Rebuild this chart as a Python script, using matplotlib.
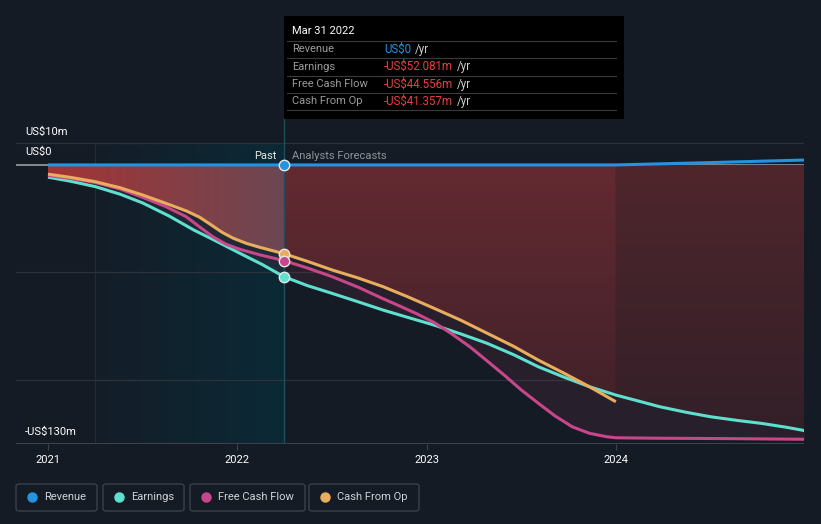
import numpy as np
import matplotlib
matplotlib.use('Agg')
import matplotlib.pyplot as plt
from matplotlib.patches import Rectangle, FancyBboxPatch
from matplotlib.colors import LinearSegmentedColormap

plt.rcParams['font.family'] = ['Roboto', 'DejaVu Sans']

# values in US$m, x in decimal years
rev_x = [2021.0, 2022.247, 2023.0, 2024.0, 2024.5, 2025.0]
rev_y = [0.0, 0.0, 0.0, 0.0, 1.1, 2.3]

earn_x = [2021.0, 2021.12, 2021.25, 2021.38, 2021.5, 2021.64, 2021.77, 2021.9, 2022.01, 2022.13,
          2022.247, 2022.37, 2022.5, 2022.64, 2022.77, 2022.9, 2023.04, 2023.18, 2023.32, 2023.46,
          2023.59, 2023.73, 2023.86, 2024.0, 2024.12, 2024.23, 2024.37, 2024.5, 2024.64, 2024.77,
          2024.9, 2025.0]
earn_y = [-5.7, -7.6, -10.1, -13.6, -17.7, -23.8, -30.3, -36.0, -41.0, -46.3,
          -52.081, -56.2, -59.8, -63.8, -67.6, -71.0, -74.6, -78.7, -83.1, -88.4,
          -94.0, -99.0, -103.3, -107.2, -110.0, -112.6, -115.2, -117.3, -119.0, -120.4,
          -122.2, -123.8]

fcf_x = [2021.0, 2021.12, 2021.25, 2021.38, 2021.5, 2021.62, 2021.73, 2021.8, 2021.87, 2021.94,
         2022.01, 2022.12, 2022.247, 2022.37, 2022.5, 2022.64, 2022.77, 2022.86, 2022.95, 2023.04,
         2023.13, 2023.23, 2023.32, 2023.41, 2023.5, 2023.59, 2023.68, 2023.77, 2023.86, 2023.95,
         2024.0, 2024.2, 2024.6, 2025.0]
fcf_y = [-4.9, -6.3, -8.2, -11.2, -15.1, -19.3, -24.1, -28.8, -33.4, -36.9,
         -39.2, -41.9, -44.556, -48.0, -52.0, -57.0, -62.3, -65.8, -69.4, -73.4,
         -78.5, -84.8, -91.3, -97.9, -104.8, -111.0, -117.0, -122.0, -125.0, -126.6,
         -127.1, -127.3, -127.5, -127.8]

cfo_x = [2021.0, 2021.12, 2021.25, 2021.38, 2021.5, 2021.62, 2021.73, 2021.8, 2021.86, 2021.92,
         2021.98, 2022.05, 2022.12, 2022.247, 2022.37, 2022.5, 2022.64, 2022.77, 2022.9, 2023.04,
         2023.18, 2023.32, 2023.46, 2023.59, 2023.73, 2023.86, 2024.0]
cfo_y = [-4.3, -5.8, -7.8, -10.6, -14.0, -17.8, -21.4, -24.3, -27.8, -31.4,
         -34.2, -36.6, -38.4, -41.357, -44.9, -48.9, -52.7, -56.7, -61.4, -66.8,
         -72.3, -78.4, -84.5, -90.9, -97.2, -103.3, -110.3]

series_names = ['Revenue', 'Earnings', 'Free Cash Flow', 'Cash From Op']
colors = ['#2394df', '#5fe0cf', '#c8468a', '#e9ad5e']
tip_values = ['US$0', '-US$52.081m', '-US$44.556m', '-US$41.357m']

NOW = 2022.247
PAST_START = 2021.25
FC_END = 2024.0

W, H = 821, 524
BG = '#151b25'
fig = plt.figure(figsize=(W / 100, H / 100), dpi=100, facecolor=BG)


def fx(px):
    return px / W


def fy(py):
    return 1 - py / H


ax = fig.add_axes([fx(16), fy(444), 788 / W, 328 / H])
ax.set_facecolor(BG)
x0, x1 = 2020.831, 2024.994
y0, y1 = -130, 22.8
ax.set_xlim(x0, x1)
ax.set_ylim(y0, y1)
for s in ax.spines.values():
    s.set_visible(False)

# past band with a teal gradient
hgrad = np.linspace(0, 1, 256).reshape(1, -1)
vgrad = np.linspace(1, 0, 256).reshape(-1, 1)
teal = LinearSegmentedColormap.from_list('t', ['#141d28', '#0b2a36'])
ax.imshow(hgrad, extent=[PAST_START, NOW, y0, 10], aspect='auto', cmap=teal, zorder=0)
ax.plot([PAST_START, PAST_START], [y0, 10], color='#1b2e3a', lw=0.8, zorder=1)

# gridlines
for g in [10, -50, -100]:
    ax.axhline(g, color='#2c323b', lw=0.9, zorder=1)
ax.axhline(0, color='#9a9ca0', lw=1.2, zorder=2)
ax.axhline(y0, color='#3c424b', lw=1.5, zorder=2)

# fills: red between 0 and upper line, faint between upper and lower
grid = np.union1d(np.linspace(2021.0, 2025.0, 800), [NOW, FC_END])
e_i = np.interp(grid, earn_x, earn_y)
f_i = np.interp(grid, fcf_x, fcf_y)
c_i = np.interp(grid, cfo_x, cfo_y)
c_i[grid > FC_END] = np.nan
stack = np.vstack([e_i, f_i, c_i])
upper = np.nanmax(stack, axis=0)
lower = np.nanmin(stack, axis=0)


def grad_fill(mask, img, cmap, extent):
    poly = ax.fill_between(grid[mask], 0, upper[mask], color='none', lw=0, zorder=2)
    im = ax.imshow(img, extent=extent, aspect='auto', cmap=cmap, zorder=2)
    im.set_clip_path(poly.get_paths()[0], transform=ax.transData)


ax.fill_between(grid, upper, lower, color='#6a3448', alpha=0.22, lw=0, zorder=2)
red_past = LinearSegmentedColormap.from_list('r', ['#a53434', '#6b4753'])
grad_fill(grid <= NOW, hgrad, red_past, [2021.0, NOW + 0.003, y0, 0])
red_fc = LinearSegmentedColormap.from_list('f', ['#3c2029', '#642a31'])
grad_fill((grid >= NOW) & (grid <= FC_END), vgrad, red_fc, [NOW - 0.003, FC_END + 0.003, y0, 0])
red_late = LinearSegmentedColormap.from_list('l', ['#321f28', '#4f262c'])
grad_fill(grid >= FC_END, vgrad, red_late, [FC_END, 2025.0, y0, 0])

ax.plot([NOW, NOW], [y0, y1], color='#1f4d5c', lw=1, zorder=3)

# lines
ax.plot(earn_x, earn_y, color=colors[1], lw=2.2, zorder=4, solid_capstyle='butt')
ax.plot(fcf_x, fcf_y, color=colors[2], lw=2.2, zorder=4, solid_capstyle='butt')
ax.plot(cfo_x, cfo_y, color=colors[3], lw=2.2, zorder=4, solid_capstyle='butt')
ax.plot(rev_x, rev_y, color=colors[0], lw=2.2, zorder=5, solid_capstyle='butt')

for val, c in zip([0.0, -41.357, -44.556, -52.081], [colors[0], colors[3], colors[2], colors[1]]):
    ax.plot([NOW], [val], 'o', ms=7.5, color=c, mec='#e8e8e8', mew=1, zorder=6)

ax.text(NOW - 0.04, 2.0, 'Past', color='#e6e6e6', fontsize=8, ha='right', va='bottom', zorder=6)
ax.text(NOW + 0.04, 2.0, 'Analysts Forecasts', color='#8e939a', fontsize=8, ha='left', va='bottom', zorder=6)

# axis labels
ax.set_xticks([2021, 2022, 2023, 2024])
ax.set_xticklabels(['2021', '2022', '2023', '2024'])
ax.tick_params(axis='x', colors='#3c424b', length=4, labelcolor='#ffffff', labelsize=8, pad=4)
ax.set_yticks([])
fig.text(fx(25), fy(132), 'US$10m', color='#ffffff', fontsize=8, va='center')
fig.text(fx(25), fy(152), 'US$0', color='#ffffff', fontsize=8, va='center')
fig.text(fx(25), fy(432), '-US$130m', color='#ffffff', fontsize=8, va='center')

# tooltip
fig.patches.append(Rectangle((fx(284), fy(119)), 340 / W, 103 / H, transform=fig.transFigure,
                             facecolor='#000000', edgecolor='none', zorder=10))
fig.text(fx(292), fy(31), 'Mar 31 2022', color='#ffffff', fontsize=8, va='center', zorder=11)
fig.canvas.draw()
for i, (name, val) in enumerate(zip(series_names, tip_values)):
    yy = 49.5 + i * 17.3
    sep = yy - 8.6
    fig.add_artist(plt.Line2D([fx(287), fx(616)], [fy(sep), fy(sep)], color='#3a3a3a', lw=0.8,
                              transform=fig.transFigure, zorder=11))
    fig.text(fx(292), fy(yy), name, color='#9b9b9b', fontsize=8, va='center', zorder=11)
    vc = colors[0] if i == 0 else '#e8403e'
    t = fig.text(fx(384), fy(yy), val, color=vc, fontsize=8.3, va='center', zorder=11)
    bb = t.get_window_extent(renderer=fig.canvas.get_renderer())
    fig.text(bb.x1 / W + 3.5 / W, fy(yy), '/yr', color='#cfcfcf', fontsize=8.3, va='center', zorder=11)
fig.add_artist(plt.Line2D([fx(287), fx(616)], [fy(110), fy(110)], color='#3a3a3a', lw=0.8,
                          transform=fig.transFigure, zorder=11))

# legend boxes
boxes = [(16, 97), (103, 184), (190, 305), (309, 419)]
for (bx0, bx1), name, c in zip(boxes, series_names, colors):
    fig.patches.append(FancyBboxPatch((fx(bx0), fy(511)), (bx1 - bx0) / W, 27 / H,
                                      boxstyle='round,pad=0,rounding_size=0.004',
                                      transform=fig.transFigure, facecolor='none',
                                      edgecolor='#3b4049', lw=1))
    fig.add_artist(plt.Line2D([fx(bx0 + 16)], [fy(497)], marker='o', ms=6.5, color=c,
                              transform=fig.transFigure, lw=0))
    fig.text(fx(bx0 + 28), fy(497), name, color='#cfd2d6', fontsize=8, va='center')

fig.savefig('out.png', dpi=100, facecolor=BG)
